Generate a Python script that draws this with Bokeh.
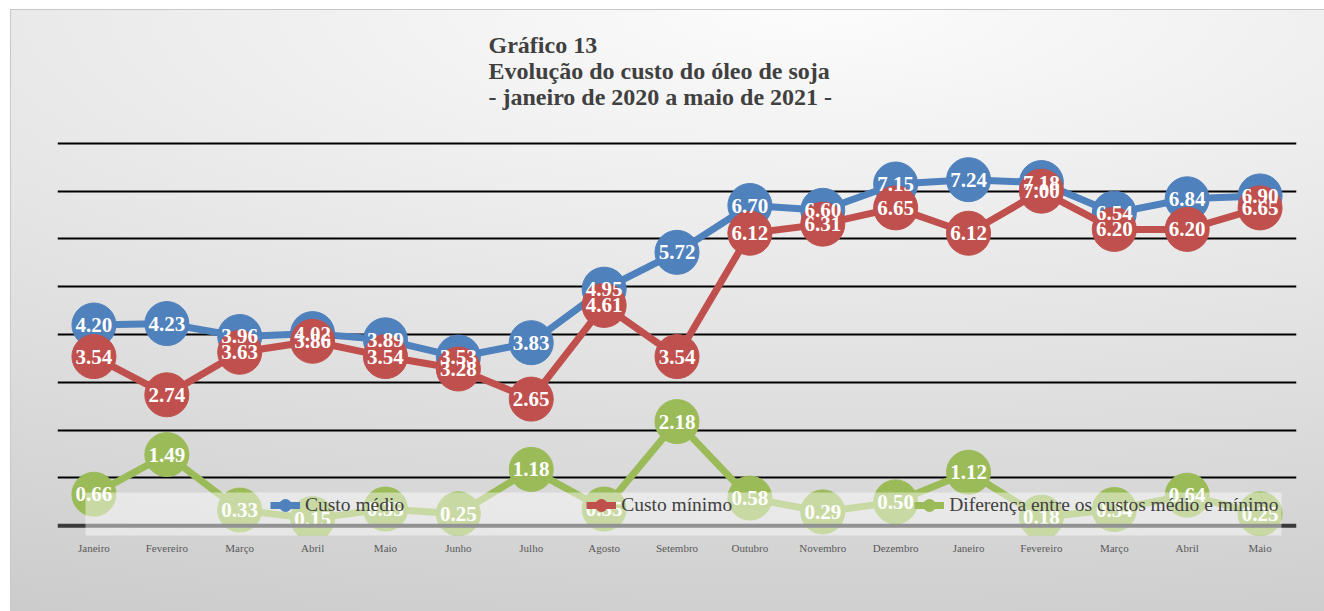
from bokeh.plotting import figure
from bokeh.models import (Range1d, FixedTicker, Grid, Span, Label, Legend, LegendItem,
                          BoxAnnotation, ColumnDataSource)
from bokeh.core.properties import value
from bokeh.embed import file_html
from bokeh.resources import INLINE

months = ["Janeiro", "Fevereiro", "Março", "Abril", "Maio", "Junho", "Julho", "Agosto",
          "Setembro", "Outubro", "Novembro", "Dezembro", "Janeiro", "Fevereiro", "Março",
          "Abril", "Maio"]
custo_medio = [4.20, 4.23, 3.96, 4.02, 3.89, 3.53, 3.83, 4.95, 5.72, 6.70, 6.60, 7.15,
               7.24, 7.18, 6.54, 6.84, 6.90]
custo_minimo = [3.54, 2.74, 3.63, 3.86, 3.54, 3.28, 2.65, 4.61, 3.54, 6.12, 6.31, 6.65,
                6.12, 7.00, 6.20, 6.20, 6.65]
diferenca = [0.66, 1.49, 0.33, 0.15, 0.35, 0.25, 1.18, 0.35, 2.18, 0.58, 0.29, 0.50,
             1.12, 0.18, 0.34, 0.64, 0.25]
grid_levels = [1, 2, 3, 4, 5, 6, 7, 8]

series = [
    ("Custo médio", custo_medio, "#4f81bd"),
    ("Custo mínimo", custo_minimo, "#c0504d"),
    ("Diferença entre os custos médio e mínimo", diferenca, "#9bbb59"),
]

x = list(range(len(months)))

p = figure(width=1324, height=611, output_backend="svg", toolbar_location=None,
           title=None, y_axis_location=None,
           x_range=Range1d(-0.5, len(months) - 0.5), y_range=Range1d(-0.203, 10.80),
           min_border_left=57, min_border_right=28, min_border_top=9, min_border_bottom=76)
p.border_fill_color = None
p.background_fill_color = None
p.outline_line_color = None
p.styles = {
    "background": (
        "linear-gradient(#c8c8c8, #c8c8c8) 10px 9px / 1314px 1px no-repeat, "
        "linear-gradient(#c8c8c8, #c8c8c8) 10px 9px / 1px 602px no-repeat, "
        "radial-gradient(ellipse 2380px 760px at 800px 0px, #fcfcfc 0%, #c4c4c4 100%) "
        "10px 9px / 1314px 602px no-repeat, #ffffff"
    ),
}

p.xgrid.visible = False
p.ygrid.visible = False
p.add_layout(Grid(dimension=1, ticker=FixedTicker(ticks=grid_levels),
                  grid_line_color="#000000", grid_line_width=2))
p.add_layout(Span(location=0, dimension="width", line_color="#3a3a3a", line_width=4))

ax = p.xaxis[0]
ax.ticker = FixedTicker(ticks=x)
ax.major_label_overrides = {i: m for i, m in enumerate(months)}
ax.axis_line_color = None
ax.major_tick_line_color = None
ax.minor_tick_line_color = None
ax.major_tick_out = 0
ax.major_tick_in = 0
ax.major_label_standoff = 6
ax.major_label_text_font = "Liberation Serif"
ax.major_label_text_font_size = "11px"
ax.major_label_text_color = "#595959"

items = []
for name, vals, color in series:
    src = ColumnDataSource(dict(x=x, y=vals))
    lr = p.line("x", "y", source=src, line_color=color, line_width=7, line_join="round")
    sr = p.scatter("x", "y", source=src, size=44, marker="circle", fill_color=color,
                   line_color=color)
    items.append(LegendItem(label=name, renderers=[lr, sr]))

for name, vals, color in series:
    src = ColumnDataSource(dict(x=x, y=vals, t=["%.2f" % v for v in vals]))
    p.text("x", "y", text="t", source=src, text_color="#ffffff",
           text_font=value("Liberation Serif"), text_font_style="bold",
           text_font_size="21px", text_align="center", text_baseline="middle")

p.add_layout(BoxAnnotation(left=28, right=1224, bottom=-3.5, top=43,
                           left_units="screen", right_units="screen",
                           bottom_units="screen", top_units="screen",
                           fill_color="#ffffff", fill_alpha=0.45, line_color=None))

legend = Legend(items=items, orientation="horizontal", location=(213, 14),
                padding=0, margin=0, spacing=182, glyph_width=30, glyph_height=32,
                label_standoff=5, label_text_font="Liberation Serif",
                label_text_font_size="19.5px", label_text_color="#404040",
                background_fill_alpha=0, border_line_color=None)
p.add_layout(legend)

title_lines = ["Gráfico 13", "Evolução do custo do óleo de soja",
               "- janeiro de 2020 a maio de 2021 -"]
for i, line in enumerate(title_lines):
    p.add_layout(Label(x=431, y=491 - 26.2 * i, x_units="screen", y_units="screen",
                       text=line, text_font="Liberation Serif", text_font_style="bold",
                       text_font_size="24px", text_color="#404040",
                       text_baseline="alphabetic"))

open("out.html", "w").write(file_html(p, INLINE))
